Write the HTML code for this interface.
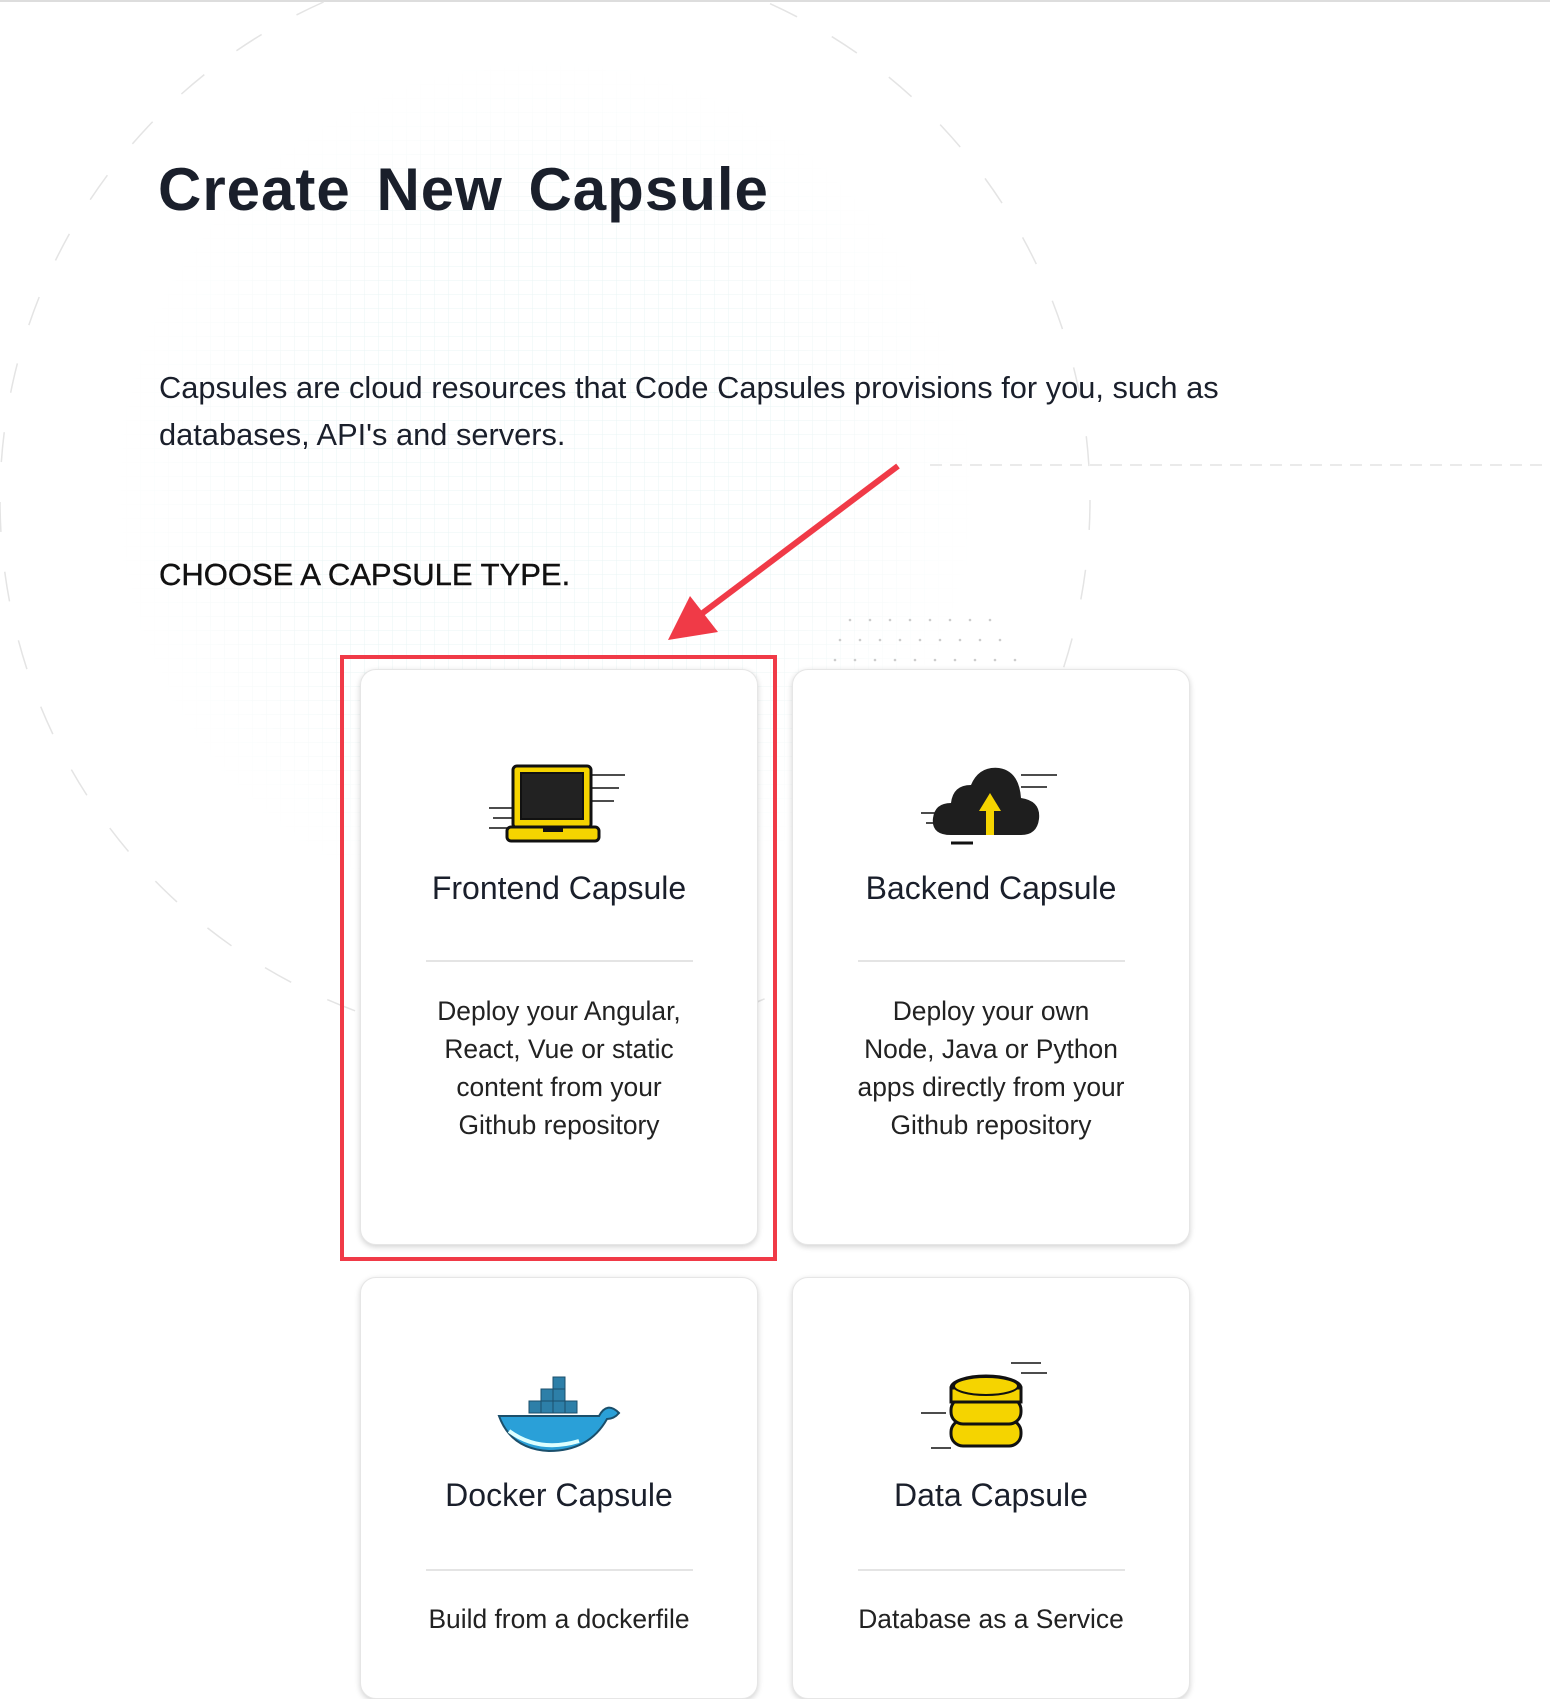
<!DOCTYPE html>
<html><head><meta charset="utf-8"><style>
body{margin:0;width:1550px;height:1640px;background:#fff;overflow:hidden;position:relative;font-family:"Liberation Sans",sans-serif;color:#1a1f2b}
.abs{position:absolute}
.card{position:absolute;width:396px;background:#fff;border-radius:16px;box-shadow:0 2px 6px rgba(0,0,0,.18);border:1px solid #e6e6e6}
.t{position:absolute;left:0;width:100%;text-align:center;font-size:32px;color:#1a1f2b}
.d{position:absolute;left:0;width:100%;text-align:center;font-size:26.4px;line-height:38px;color:#222}
.hr{position:absolute;left:65px;width:267px;height:2px;background:#e4e4e4}
</style></head><body>
<div class="abs" style="left:0;top:0;width:1550px;height:2px;background:#ddd"></div>
<svg class="abs" style="left:0;top:0" width="1550" height="1640">
<defs><pattern id="g" width="14" height="14" patternUnits="userSpaceOnUse"><path d="M14 0H0V14" fill="none" stroke="#eaf4f4" stroke-width="1"/></pattern>
<radialGradient id="rg"><stop offset="0.6" stop-color="#fff" stop-opacity="0"/><stop offset="1" stop-color="#fff" stop-opacity="1"/></radialGradient></defs>
<circle cx="545" cy="490" r="430" fill="url(#g)"/>
<circle cx="545" cy="490" r="432" fill="url(#rg)"/>
<circle cx="545" cy="500" r="545" fill="none" stroke="#e4e4e4" stroke-width="1.5" stroke-dasharray="30 40"/>
<line x1="930" y1="465" x2="1550" y2="465" stroke="#e4e4e4" stroke-width="1.5" stroke-dasharray="12 8"/>
<g fill="#ccc">
<circle cx="850" cy="620" r="1.3"/><circle cx="870" cy="620" r="1.3"/><circle cx="890" cy="620" r="1.3"/><circle cx="910" cy="620" r="1.3"/><circle cx="930" cy="620" r="1.3"/><circle cx="950" cy="620" r="1.3"/><circle cx="970" cy="620" r="1.3"/><circle cx="990" cy="620" r="1.3"/>
<circle cx="840" cy="640" r="1.3"/><circle cx="860" cy="640" r="1.3"/><circle cx="880" cy="640" r="1.3"/><circle cx="900" cy="640" r="1.3"/><circle cx="920" cy="640" r="1.3"/><circle cx="940" cy="640" r="1.3"/><circle cx="960" cy="640" r="1.3"/><circle cx="980" cy="640" r="1.3"/><circle cx="1000" cy="640" r="1.3"/>
<circle cx="835" cy="660" r="1.3"/><circle cx="855" cy="660" r="1.3"/><circle cx="875" cy="660" r="1.3"/><circle cx="895" cy="660" r="1.3"/><circle cx="915" cy="660" r="1.3"/><circle cx="935" cy="660" r="1.3"/><circle cx="955" cy="660" r="1.3"/><circle cx="975" cy="660" r="1.3"/><circle cx="995" cy="660" r="1.3"/><circle cx="1015" cy="660" r="1.3"/>
</g>
</svg>
<div class="abs" style="left:158px;top:155px;font-size:60px;font-weight:bold;letter-spacing:1px;word-spacing:8px">Create New Capsule</div>
<div class="abs" style="left:159px;top:364px;font-size:30.8px;line-height:47px;width:1200px">Capsules are cloud resources that Code Capsules provisions for you, such as<br>databases, API's and servers.</div>
<div class="abs" style="left:159px;top:557px;font-size:31px;color:#111;-webkit-text-stroke:0.4px #111">CHOOSE A CAPSULE TYPE.</div>

<div class="card" style="left:360px;top:669px;height:574px">
 <svg class="abs" style="left:128px;top:93px" width="140" height="82"><g stroke="#111" stroke-width="1.5"><line x1="0" y1="45" x2="28" y2="45"/><line x1="4" y1="55" x2="28" y2="55"/><line x1="0" y1="65" x2="28" y2="65"/><line x1="100" y1="12" x2="136" y2="12"/><line x1="100" y1="25" x2="130" y2="25"/><line x1="100" y1="38" x2="125" y2="38"/></g>
 <rect x="24" y="3" width="78" height="62" rx="4" fill="#f5d400" stroke="#111" stroke-width="3"/><rect x="32" y="10" width="62" height="46" fill="#222" stroke="#111" stroke-width="2"/><rect x="18" y="64" width="92" height="14" rx="4" fill="#f5d400" stroke="#111" stroke-width="3"/><rect x="54" y="64" width="20" height="5" fill="#111"/></svg>
 <div class="t" style="top:200px">Frontend Capsule</div><div class="hr" style="top:290px"></div>
 <div class="d" style="top:322px">Deploy your Angular,<br>React, Vue or static<br>content from your<br>Github repository</div></div>

<div class="card" style="left:792px;top:669px;height:574px">
 <svg class="abs" style="left:128px;top:93px" width="140" height="82"><g stroke="#111" stroke-width="1.5"><line x1="0" y1="50" x2="20" y2="50"/><line x1="5" y1="60" x2="20" y2="60"/><line x1="100" y1="12" x2="136" y2="12"/><line x1="100" y1="24" x2="126" y2="24"/><line x1="30" y1="80" x2="52" y2="80" stroke-width="3"/></g>
 <path d="M30 72 Q10 72 12 55 Q14 40 30 40 Q32 22 50 22 Q58 3 78 5 Q98 8 100 35 Q120 38 118 56 Q116 72 100 72 Z" fill="#1e1e1e"/><path d="M65 72 V48 H58 L69 30 L80 48 H73 V72 Z" fill="#f5d400"/></svg>
 <div class="t" style="top:200px">Backend Capsule</div><div class="hr" style="top:290px"></div>
 <div class="d" style="top:322px">Deploy your own<br>Node, Java or Python<br>apps directly from your<br>Github repository</div></div>

<div class="card" style="left:360px;top:1277px;height:420px">
 <svg class="abs" style="left:128px;top:93px" width="140" height="90"><g fill="#2d7fa8" stroke="#1b4f6b"><rect x="40" y="30" width="12" height="12"/><rect x="52" y="30" width="12" height="12"/><rect x="64" y="30" width="12" height="12"/><rect x="76" y="30" width="12" height="12"/><rect x="52" y="18" width="12" height="12"/><rect x="64" y="18" width="12" height="12"/><rect x="64" y="6" width="12" height="12"/></g>
 <path d="M10 45 H110 Q118 30 130 42 Q125 48 118 48 Q100 80 60 80 Q22 78 10 45 Z" fill="#2aa0d8" stroke="#1b4f6b" stroke-width="2"/><path d="M20 60 Q50 82 90 70" fill="none" stroke="#dff" stroke-width="4"/></svg>
 <div class="t" style="top:199px">Docker Capsule</div><div class="hr" style="top:291px"></div>
 <div class="d" style="top:322px">Build from a dockerfile</div></div>

<div class="card" style="left:792px;top:1277px;height:420px">
 <svg class="abs" style="left:128px;top:80px" width="140" height="100"><g stroke="#111" stroke-width="1.5"><line x1="90" y1="5" x2="120" y2="5"/><line x1="100" y1="15" x2="126" y2="15"/><line x1="0" y1="55" x2="25" y2="55"/><line x1="10" y1="90" x2="30" y2="90"/></g>
 <g fill="#f5d400" stroke="#111" stroke-width="3"><rect x="30" y="62" width="70" height="26" rx="12"/><rect x="30" y="40" width="70" height="26" rx="12"/><ellipse cx="65" cy="30" rx="35" ry="12"/><rect x="30" y="30" width="70" height="14"/></g><ellipse cx="65" cy="28" rx="32" ry="9" fill="#f5d400" stroke="#111" stroke-width="2"/></svg>
 <div class="t" style="top:199px">Data Capsule</div><div class="hr" style="top:291px"></div>
 <div class="d" style="top:322px">Database as a Service</div></div>

<div class="abs" style="left:340px;top:655px;width:429px;height:598px;border:4px solid #f03a47"></div>
<svg class="abs" style="left:0;top:0" width="1550" height="1640"><line x1="898" y1="466" x2="700" y2="615" stroke="#f03a47" stroke-width="6"/><polygon points="668,640 690,596 718,632" fill="#f03a47"/></svg>
</body></html>
